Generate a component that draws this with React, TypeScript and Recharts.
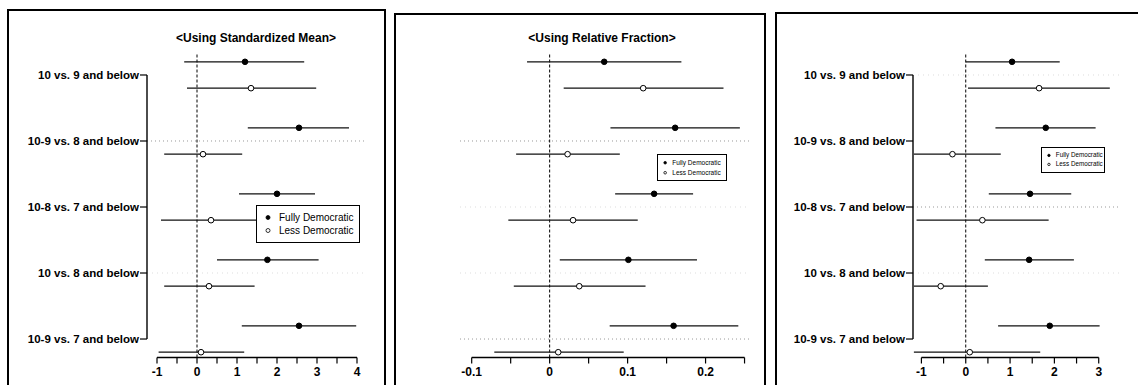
import React from "react";
import {
  ScatterChart,
  Scatter,
  XAxis,
  YAxis,
  ErrorBar,
  ReferenceLine,
} from "recharts";

const categories = [
  "10 vs. 9 and below",
  "10-9 vs. 8 and below",
  "10-8 vs. 7 and below",
  "10 vs. 8 and below",
  "10-9 vs. 7 and below",
];

// Panel 1: Using Standardized Mean
const smFullyEst = [1.2, 2.55, 2.0, 1.76, 2.55];
const smFullyLo = [-0.32, 1.27, 1.05, 0.5, 1.12];
const smFullyHi = [2.68, 3.8, 2.95, 3.04, 3.98];
const smLessEst = [1.35, 0.15, 0.35, 0.3, 0.1];
const smLessLo = [-0.25, -0.82, -0.9, -0.82, -0.96];
const smLessHi = [2.98, 1.13, 1.6, 1.44, 1.18];
const smTicks = [-1, -0.5, 0, 0.5, 1, 1.5, 2, 2.5, 3, 3.5, 4];
const smTickLabels = ["-1", "", "0", "", "1", "", "2", "", "3", "", "4"];

// Panel 2: Using Relative Fraction
const rfFullyEst = [0.07, 0.161, 0.134, 0.101, 0.159];
const rfFullyLo = [-0.029, 0.078, 0.084, 0.013, 0.077];
const rfFullyHi = [0.169, 0.244, 0.184, 0.189, 0.242];
const rfLessEst = [0.12, 0.023, 0.03, 0.038, 0.011];
const rfLessLo = [0.018, -0.043, -0.053, -0.046, -0.071];
const rfLessHi = [0.223, 0.09, 0.113, 0.123, 0.095];
const rfTicks = [-0.1, -0.05, 0, 0.05, 0.1, 0.15, 0.2, 0.25];
const rfTickLabels = ["-0.1", "", "0", "", "0.1", "", "0.2", ""];

// Panel 3
const p3FullyEst = [1.045, 1.805, 1.45, 1.43, 1.895];
const p3FullyLo = [0.0, 0.67, 0.52, 0.43, 0.73];
const p3FullyHi = [2.12, 2.93, 2.38, 2.44, 3.02];
const p3LessEst = [1.655, -0.3, 0.375, -0.565, 0.09];
const p3LessLo = [0.05, -1.17, -1.11, -1.17, -1.17];
const p3LessHi = [3.25, 0.79, 1.87, 0.5, 1.68];
const p3Ticks = [-1, -0.5, 0, 0.5, 1, 1.5, 2, 2.5, 3];
const p3TickLabels = ["-1", "", "0", "", "1", "", "2", "", "3"];

const legendNames = ["Fully Democratic", "Less Democratic"];

const FONT = "'Liberation Sans', Arial, Helvetica, sans-serif";
const ROW_DOMAIN: [number, number] = [0.682, 5.28];
const H = 385;

type PanelProps = {
  left: number;
  width: number;
  yWidth: number;
  showY: boolean;
  marginLeft: number;
  marginRight: number;
  xDomain: [number, number];
  ticks: number[];
  tickLabels: string[];
  fEst: number[];
  fLo: number[];
  fHi: number[];
  lEst: number[];
  lLo: number[];
  lHi: number[];
  gridStrong: number[];
  gridFaint: number[];
};

function build(est: number[], lo: number[], hi: number[], off: number) {
  return est.map((v, i) => ({
    x: v,
    y: i + 1 + off,
    err: [v - lo[i], hi[i] - v],
  }));
}

const Dot = (fill: string) => (p: any) => (
  <circle cx={p.cx} cy={p.cy} r={2.8} fill={fill} stroke="#000" strokeWidth={1} />
);
const Empty = () => <g />;

function Panel(props: PanelProps) {
  const fully = build(props.fEst, props.fLo, props.fHi, -0.2);
  const less = build(props.lEst, props.lLo, props.lHi, 0.2);
  const [xMin] = props.xDomain;
  const tickMap = new Map(props.ticks.map((t, i) => [t, props.tickLabels[i]]));
  return (
    <div style={{ position: "absolute", left: props.left, top: 0 }}>
      <ScatterChart
        width={props.width}
        height={H}
        margin={{ top: 54, right: props.marginRight, left: props.marginLeft, bottom: 0 }}
      >
        <XAxis
          type="number"
          dataKey="x"
          domain={props.xDomain}
          allowDataOverflow
          ticks={props.ticks}
          interval={0}
          height={27.5}
          axisLine={false}
          tickSize={6}
          tickMargin={4}
          tickLine={{ stroke: "#000", strokeWidth: 1.2 }}
          tickFormatter={(v: number) => tickMap.get(v) ?? ""}
          tick={{ fontSize: 12, fontWeight: "bold", fill: "#000", fontFamily: FONT }}
        />
        <YAxis
          type="number"
          dataKey="y"
          reversed
          domain={ROW_DOMAIN}
          allowDataOverflow
          hide={!props.showY}
          width={props.yWidth}
          ticks={[1, 2, 3, 4, 5]}
          interval={0}
          axisLine={false}
          tickSize={7}
          tickMargin={1}
          tickLine={{ stroke: "#000", strokeWidth: 1.2 }}
          tickFormatter={(v: number) => categories[v - 1] ?? ""}
          tick={{ fontSize: 11.5, fontWeight: "bold", fill: "#000", fontFamily: FONT }}
        />
        {props.gridStrong.map((r) => (
          <ReferenceLine key={"gs" + r} y={r} stroke="#999" strokeDasharray="1 3" />
        ))}
        {props.gridFaint.map((r) => (
          <ReferenceLine key={"gf" + r} y={r} stroke="#ddd" strokeDasharray="1 4" />
        ))}
        <ReferenceLine x={0} stroke="#000" strokeDasharray="3 2" strokeWidth={1} />
        <ReferenceLine
          ifOverflow="visible"
          segment={[
            { x: props.ticks[0], y: ROW_DOMAIN[1] },
            { x: props.ticks[props.ticks.length - 1], y: ROW_DOMAIN[1] },
          ]}
          stroke="#000"
          strokeWidth={1.4}
        />
        {props.showY && (
          <ReferenceLine
            ifOverflow="visible"
            segment={[
              { x: xMin, y: 1 },
              { x: xMin, y: 5 },
            ]}
            stroke="#000"
            strokeWidth={1.4}
          />
        )}
        <Scatter name="fullyCI" data={fully} shape={Empty} isAnimationActive={false}>
          <ErrorBar dataKey="err" direction="x" width={0} stroke="#111" strokeWidth={1.2} />
        </Scatter>
        <Scatter name="lessCI" data={less} shape={Empty} isAnimationActive={false}>
          <ErrorBar dataKey="err" direction="x" width={0} stroke="#111" strokeWidth={1.2} />
        </Scatter>
        <Scatter name={legendNames[0]} data={fully} shape={Dot("#000")} isAnimationActive={false} />
        <Scatter name={legendNames[1]} data={less} shape={Dot("#fff")} isAnimationActive={false} />
      </ScatterChart>
    </div>
  );
}

function LegendBox({ left, top, width, height, fontSize, rowGap, dotR }: any) {
  return (
    <div
      style={{
        position: "absolute",
        left,
        top,
        width,
        height,
        boxSizing: "border-box",
        border: "1.4px solid #000",
        background: "#fff",
        fontFamily: FONT,
        fontSize,
        color: "#000",
      }}
    >
      {legendNames.map((n, i) => (
        <div
          key={n}
          style={{
            position: "absolute",
            left: 0,
            top: (height - 2 * rowGap) / 2 + i * rowGap - 1,
            height: rowGap,
            lineHeight: rowGap + "px",
            whiteSpace: "nowrap",
            width: "100%",
          }}
        >
          <svg width={fontSize * 2.2} height={rowGap} style={{ verticalAlign: "top" }}>
            <circle
              cx={fontSize * 1.1}
              cy={rowGap / 2}
              r={dotR}
              fill={i === 0 ? "#000" : "#fff"}
              stroke="#000"
              strokeWidth={0.8}
            />
          </svg>
          <span style={{ verticalAlign: "top" }}>{n}</span>
        </div>
      ))}
    </div>
  );
}

export default function App() {
  return (
    <div
      style={{
        position: "fixed",
        left: 0,
        top: 0,
        width: 1138,
        height: H,
        overflow: "hidden",
        background: "#fff",
        fontFamily: FONT,
      }}
    >
      {/* frames */}
      <div style={{ position: "absolute", left: 7, top: 9, width: 379, height: 420, border: "2px solid #000", boxSizing: "border-box" }} />
      <div style={{ position: "absolute", left: 394, top: 13, width: 372, height: 420, border: "2px solid #000", boxSizing: "border-box" }} />
      <div style={{ position: "absolute", left: 775, top: 12, width: 420, height: 420, border: "2px solid #000", boxSizing: "border-box" }} />

      <Panel
        left={0}
        width={385}
        yWidth={147}
        showY
        marginLeft={0}
        marginRight={20}
        xDomain={[-1.25, 4.2]}
        ticks={smTicks}
        tickLabels={smTickLabels}
        fEst={smFullyEst}
        fLo={smFullyLo}
        fHi={smFullyHi}
        lEst={smLessEst}
        lLo={smLessLo}
        lHi={smLessHi}
        gridStrong={[2]}
        gridFaint={[4]}
      />
      <Panel
        left={385}
        width={380}
        yWidth={0}
        showY={false}
        marginLeft={75}
        marginRight={15}
        xDomain={[-0.115, 0.257]}
        ticks={rfTicks}
        tickLabels={rfTickLabels}
        fEst={rfFullyEst}
        fLo={rfFullyLo}
        fHi={rfFullyHi}
        lEst={rfLessEst}
        lLo={rfLessLo}
        lHi={rfLessHi}
        gridStrong={[2, 5]}
        gridFaint={[3, 4]}
      />
      <Panel
        left={765}
        width={373}
        yWidth={148}
        showY
        marginLeft={0}
        marginRight={18}
        xDomain={[-1.19, 3.48]}
        ticks={p3Ticks}
        tickLabels={p3TickLabels}
        fEst={p3FullyEst}
        fLo={p3FullyLo}
        fHi={p3FullyHi}
        lEst={p3LessEst}
        lLo={p3LessLo}
        lHi={p3LessHi}
        gridStrong={[3]}
        gridFaint={[1, 4]}
      />

      {/* titles */}
      <div style={{ position: "absolute", left: 156, width: 200, top: 31, textAlign: "center", fontSize: 12, fontWeight: "bold" }}>
        {"<Using Standardized Mean>"}
      </div>
      <div style={{ position: "absolute", left: 502, width: 200, top: 31, textAlign: "center", fontSize: 12, fontWeight: "bold" }}>
        {"<Using Relative Fraction>"}
      </div>

      {/* legends */}
      <LegendBox left={256} top={205} width={104} height={38} fontSize={10} rowGap={13} dotR={2} />
      <LegendBox left={657} top={154} width={70} height={27} fontSize={6.5} rowGap={9.5} dotR={1.3} />
      <LegendBox left={1041} top={147} width={64} height={26} fontSize={6.3} rowGap={8.8} dotR={1.2} />
    </div>
  );
}
